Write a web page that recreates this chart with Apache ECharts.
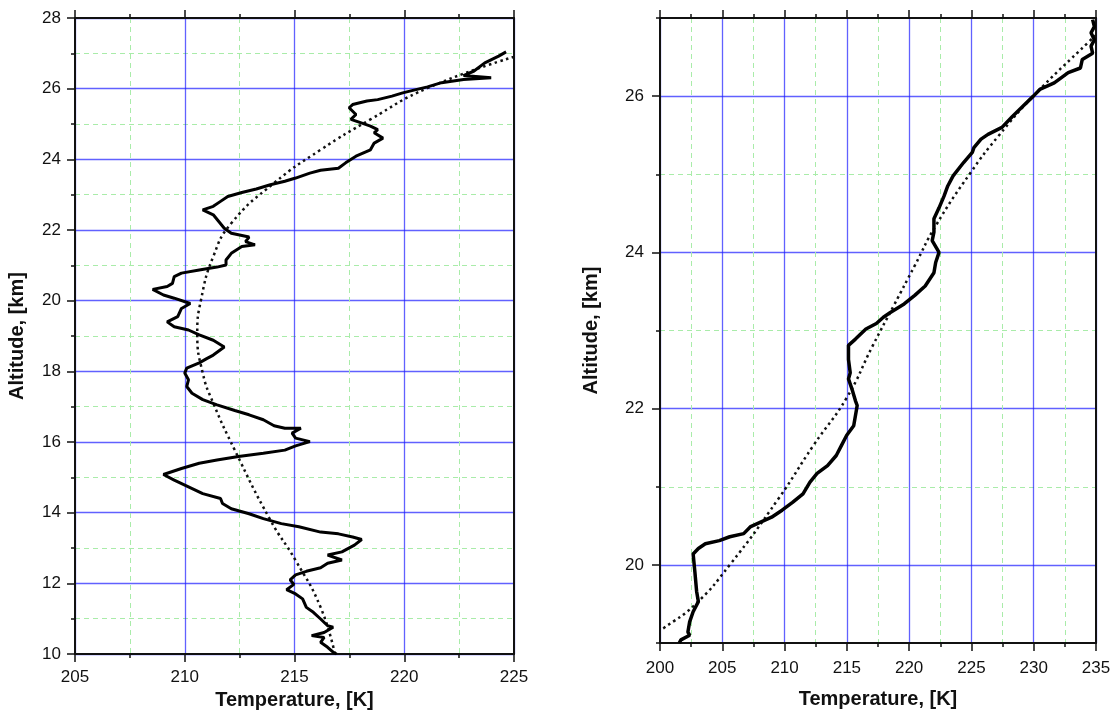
<!DOCTYPE html>
<html><head><meta charset="utf-8">
<script src="https://cdn.jsdelivr.net/npm/echarts@6/dist/echarts.min.js"></script>
<style>html,body{margin:0;padding:0;background:#fff}#c{width:1116px;height:716px}</style>
</head><body><div id="c"></div>
<script>
// ---- Left panel: measured profile (Temperature K, Altitude km) ----
const leftTemp = [224.64,224.3,223.67,223.18,222.7,223.96,222.7,221.7,221.06,220.58,219.93,219.44,218.79,218.3,217.65,217.49,217.8,217.57,218.14,218.46,218.79,218.63,219.03,218.63,218.46,217.8,217.33,217.0,216.19,215.7,215.05,214.56,213.9,213.26,212.6,211.96,211.63,211.3,210.82,211.3,211.55,211.8,212.12,212.93,212.77,213.2,212.6,212.12,211.88,211.88,211.47,210.66,209.85,209.52,209.44,209.2,208.54,209.03,209.52,210.25,209.85,209.68,209.2,209.52,210.17,210.66,211.3,211.8,211.3,211.0,210.66,210.09,210.0,210.17,210.09,210.33,210.82,211.47,212.28,212.93,213.58,214.07,214.56,215.29,214.89,215.05,215.7,215.05,214.56,213.58,212.45,211.47,210.66,209.85,209.03,209.52,210.17,210.82,211.63,211.72,212.12,212.93,213.58,214.4,215.2,216.19,217.0,217.65,218.06,217.73,217.16,216.51,217.16,216.51,216.19,215.54,215.05,214.8,214.97,214.64,215.05,215.37,215.54,215.86,216.19,216.51,216.76,216.35,215.78,216.35,216.19,216.51,216.76,216.92];
const leftAlt = [27.04,26.92,26.73,26.5,26.37,26.31,26.26,26.17,26.05,25.98,25.88,25.79,25.69,25.65,25.55,25.46,25.27,25.13,25.01,24.94,24.84,24.75,24.6,24.46,24.27,24.09,23.9,23.75,23.69,23.61,23.47,23.38,23.28,23.16,23.06,22.95,22.81,22.67,22.57,22.43,22.24,22.05,21.91,21.8,21.67,21.58,21.53,21.34,21.15,21.01,20.95,20.87,20.78,20.68,20.49,20.4,20.32,20.16,20.07,19.92,19.78,19.55,19.4,19.26,19.17,19.03,18.88,18.69,18.46,18.36,18.24,18.09,17.95,17.76,17.57,17.38,17.2,17.05,16.89,16.77,16.63,16.46,16.39,16.39,16.25,16.11,16.01,15.89,15.77,15.68,15.59,15.49,15.4,15.25,15.08,14.92,14.73,14.54,14.4,14.26,14.11,13.97,13.83,13.69,13.6,13.45,13.4,13.31,13.24,13.08,12.89,12.8,12.66,12.57,12.44,12.34,12.24,12.1,11.97,11.82,11.7,11.56,11.32,11.18,10.99,10.8,10.76,10.61,10.52,10.47,10.33,10.19,10.05,10.0];
// Left panel: fitted curve (dotted)
const leftFitTemp = [225.0,221.07,218.46,216.19,214.07,212.12,211.3,210.74,210.57,210.82,211.3,212.28,213.9,215.05,216.19,216.84];
const leftFitAlt  = [26.9,26.02,25.13,24.27,23.33,22.19,21.25,20.02,19.07,17.95,17.1,15.77,13.79,12.65,11.32,10.0];

// ---- Right panel: measured profile ----
const rightTemp = [234.73,234.87,234.6,234.87,234.6,234.73,233.9,233.75,232.77,231.65,230.53,229.97,229.13,228.29,227.45,226.33,225.77,225.2,225.07,224.37,223.53,223.1,222.8,222.4,221.99,221.99,221.85,222.4,222.13,221.99,221.29,220.45,219.6,218.49,217.93,217.37,216.53,215.69,215.13,215.13,215.13,215.27,215.13,215.41,215.69,215.83,215.55,214.99,214.57,214.15,213.45,212.61,212.04,211.48,210.64,209.8,208.96,208.12,207.28,206.72,205.6,204.76,203.64,203.08,202.66,202.8,202.94,203.08,202.66,202.38,202.24,202.38,201.68,201.54];
const rightAlt  = [26.98,26.89,26.81,26.72,26.64,26.55,26.47,26.36,26.3,26.17,26.09,26.0,25.87,25.74,25.6,25.51,25.45,25.34,25.28,25.15,24.98,24.85,24.72,24.57,24.43,24.26,24.15,24.0,23.87,23.74,23.57,23.45,23.34,23.23,23.17,23.09,23.02,22.89,22.81,22.8,22.63,22.46,22.38,22.25,22.1,22.04,21.78,21.66,21.53,21.4,21.27,21.17,21.06,20.91,20.8,20.7,20.61,20.55,20.49,20.4,20.36,20.31,20.27,20.21,20.14,19.91,19.66,19.53,19.4,19.27,19.14,19.1,19.04,19.0];
// Right panel: fitted curve (dotted)
const rightFitTemp = [235.0,234.45,229.97,227.17,224.93,222.13,220.45,218.77,217.09,214.99,212.32,209.52,205.6,202.8,200.28,200.0];
const rightFitAlt  = [26.78,26.7,26.0,25.49,25.02,24.34,23.83,23.32,22.81,22.14,21.53,20.85,20.0,19.49,19.19,19.17];

// ---- Tick labels ----
const rightYLabels = [20,22,24,26];
const rightYMinor = [19,21,23,25,27];

const pair = (xs, ys) => xs.map((x, i) => [x, ys[i]]);
const FONT = '"Liberation Sans", Arial, sans-serif';
const BLUE = 'rgba(30,30,255,0.7)';
const GREEN = '#a9eca9';
const axisLine = {show: true, onZero: false, lineStyle: {color: '#111', width: 2}};
const majorTick = {show: true, inside: false, length: 8, lineStyle: {color: '#111', width: 1.5}};
const minorTick = {show: true, splitNumber: 2, length: 4, lineStyle: {color: '#111', width: 1.5}};
const lbl = {color: '#111', fontSize: 17, fontFamily: FONT};
const nameStyle = {color: '#111', fontSize: 20, fontWeight: 'bold', fontFamily: FONT};
const split = {show: true, lineStyle: {color: BLUE, width: 1.3}};
const minorSplit = {show: true, lineStyle: {color: GREEN, width: 1, type: [5, 4]}};

function xBottom(grid, min, max, gap, margin) {
  return {type: 'value', gridIndex: grid, position: 'bottom', min, max, interval: 5,
    axisLine, axisTick: majorTick, minorTick, splitLine: split, minorSplitLine: minorSplit,
    axisLabel: Object.assign({margin}, lbl),
    name: 'Temperature, [K]', nameLocation: 'middle', nameGap: gap, nameTextStyle: nameStyle};
}
function xTop(grid, min, max) {
  return {type: 'value', gridIndex: grid, position: 'top', min, max, interval: 5,
    axisLine, axisTick: majorTick, minorTick, splitLine: {show: false},
    axisLabel: {show: false}};
}
function yRight(grid, min, max) {
  return {type: 'value', gridIndex: grid, position: 'right', min, max,
    axisLine, axisTick: {show: false}, axisLabel: {show: false}, splitLine: {show: false}};
}

const option = {
  animation: false,
  backgroundColor: '#fff',
  grid: [
    {left: 75, top: 18, width: 439, height: 636},
    {left: 660, top: 18, width: 436, height: 625}
  ],
  xAxis: [
    xBottom(0, 205, 225, 32, 15), xTop(0, 205, 225),
    xBottom(1, 200, 235, 46, 17), xTop(1, 200, 235)
  ],
  yAxis: [
    {type: 'value', gridIndex: 0, position: 'left', min: 10, max: 28, interval: 2,
     axisLine, axisTick: majorTick, minorTick, splitLine: split, minorSplitLine: minorSplit,
     axisLabel: Object.assign({margin: 14}, lbl),
     name: 'Altitude, [km]', nameLocation: 'middle', nameGap: 48, nameRotate: 90, nameTextStyle: nameStyle},
    yRight(0, 10, 28),
    {type: 'value', gridIndex: 1, position: 'left', min: 19, max: 27,
     axisLine, axisTick: Object.assign({customValues: rightYLabels}, majorTick),
     splitLine: split,
     axisLabel: Object.assign({margin: 16, customValues: rightYLabels}, lbl),
     name: 'Altitude, [km]', nameLocation: 'middle', nameGap: 59, nameRotate: 90, nameTextStyle: nameStyle},
    {type: 'value', gridIndex: 1, position: 'left', min: 19, max: 27,
     axisLine: {show: false},
     axisTick: Object.assign({}, minorTick, {customValues: rightYMinor}),
     splitLine: minorSplit, axisLabel: {show: false}},
    yRight(1, 19, 27)
  ],
  series: [
    {type: 'line', xAxisIndex: 0, yAxisIndex: 0, data: pair(leftFitTemp, leftFitAlt), showSymbol: false, smooth: true,
     lineStyle: {color: '#111', width: 2.5, type: [2.5, 3.5]}, z: 3},
    {type: 'line', xAxisIndex: 0, yAxisIndex: 0, data: pair(leftTemp, leftAlt), showSymbol: false,
     lineStyle: {color: '#000', width: 3}, z: 4},
    {type: 'line', xAxisIndex: 2, yAxisIndex: 2, data: pair(rightFitTemp, rightFitAlt), showSymbol: false, smooth: true,
     lineStyle: {color: '#111', width: 2.5, type: [2.5, 3.5]}, z: 3},
    {type: 'line', xAxisIndex: 2, yAxisIndex: 2, data: pair(rightTemp, rightAlt), showSymbol: false,
     lineStyle: {color: '#000', width: 3.5}, z: 4}
  ]
};
const chart = echarts.init(document.getElementById('c'), null, {renderer: 'canvas'});
chart.setOption(option);
</script></body></html>
